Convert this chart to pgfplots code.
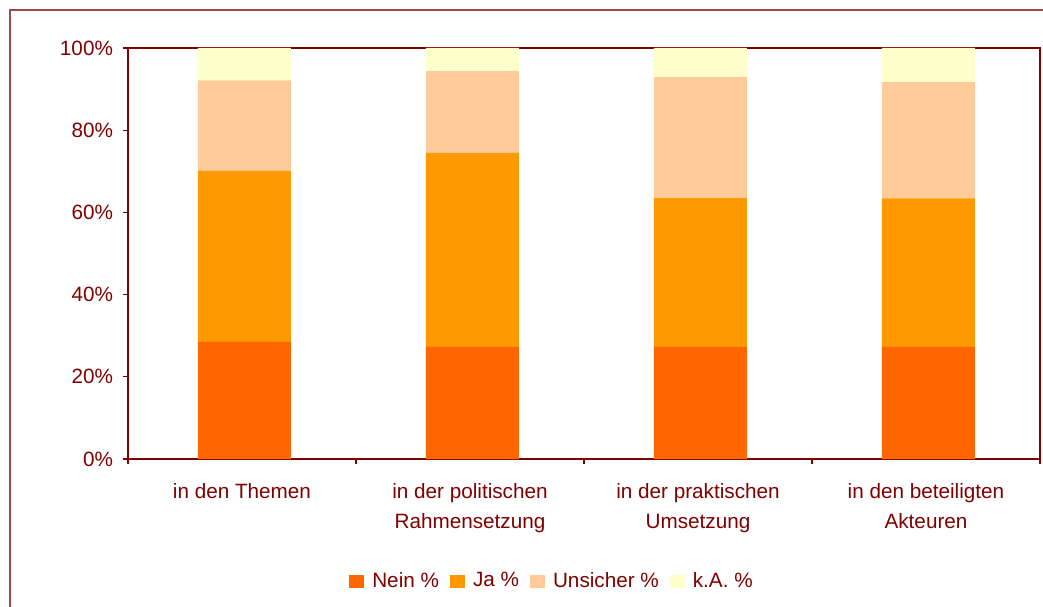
\documentclass[border=0pt]{standalone}
\usepackage{pgfplots}
\usepackage{pgfplotstable}
\pgfplotsset{compat=1.18}
\usepackage{fontspec}
\setmainfont{Liberation Sans}
\definecolor{dred}{HTML}{800000}
\definecolor{framec}{HTML}{A04848}
\definecolor{cNein}{HTML}{FF6600}
\definecolor{cJa}{HTML}{FF9900}
\definecolor{cUns}{HTML}{FFCC99}
\definecolor{cKA}{HTML}{FFFFCC}
\pgfplotstableread{
cat nein ja uns ka
0 28.5 41.6 22.0 7.9
1 27.3 47.2 19.9 5.6
2 27.3 36.2 29.4 7.1
3 27.3 36.1 28.3 8.3
}\data
\pgfplotsset{sqleg/.style={legend image code/.code={\fill[##1] (0pt,-3.25pt) rectangle (7.5pt,3.25pt);}}}
\begin{document}
\begin{tikzpicture}[x=1pt,y=1pt]
\useasboundingbox (0,0) rectangle (521.5,303);
\draw[framec, line width=0.7pt] (5,-5) -- (5,298) -- (530,298);
\begin{axis}[
  at={(64pt,73.5pt)}, anchor=south west,
  scale only axis, width=456pt, height=205.5pt,
  ybar stacked, bar width=46.5pt, bar shift=1.2pt,
  xmin=-0.5, xmax=3.5, ymin=0, ymax=100,
  ytick={0,20,40,60,80,100},
  yticklabel={\pgfmathprintnumber{\tick}\%},
  /pgf/number format/assume math mode=true,
  xtick={-0.5,0.5,1.5,2.5,3.5}, xticklabels={},
  extra x ticks={0,1,2,3},
  extra x tick labels={in den Themen,{in der politischen\\Rahmensetzung},{in der praktischen\\Umsetzung},{in den beteiligten\\Akteuren}},
  extra x tick style={tick style={draw=none}},
  xtick pos=lower, ytick pos=left,
  tick align=outside, major tick length=2.5pt,
  tick style={dred, line width=0.6pt},
  axis line style={dred, line width=1pt},
  tick label style={font=\fontsize{10.35}{15}\selectfont, color=dred},
  x tick label style={align=center, yshift=-6pt},
  y tick label style={xshift=-1.5pt},
  legend style={at={(0.466,-0.297)}, anchor=center, draw=none, fill=none,
    legend columns=-1, font=\fontsize{10.35}{12}\selectfont, text=dred,
    /tikz/every odd column/.append style={column sep=2pt},
    /tikz/every even column/.append style={column sep=3.5pt}},
]
\addplot[fill=cNein, draw=none, sqleg] table[x=cat,y=nein]{\data};
\addplot[fill=cJa, draw=none, sqleg] table[x=cat,y=ja]{\data};
\addplot[fill=cUns, draw=none, sqleg] table[x=cat,y=uns]{\data};
\addplot[fill=cKA, draw=none, sqleg] table[x=cat,y=ka]{\data};
\legend{Nein \%, Ja \%, Unsicher \%, k.A. \%}
\end{axis}
\end{tikzpicture}
\end{document}
